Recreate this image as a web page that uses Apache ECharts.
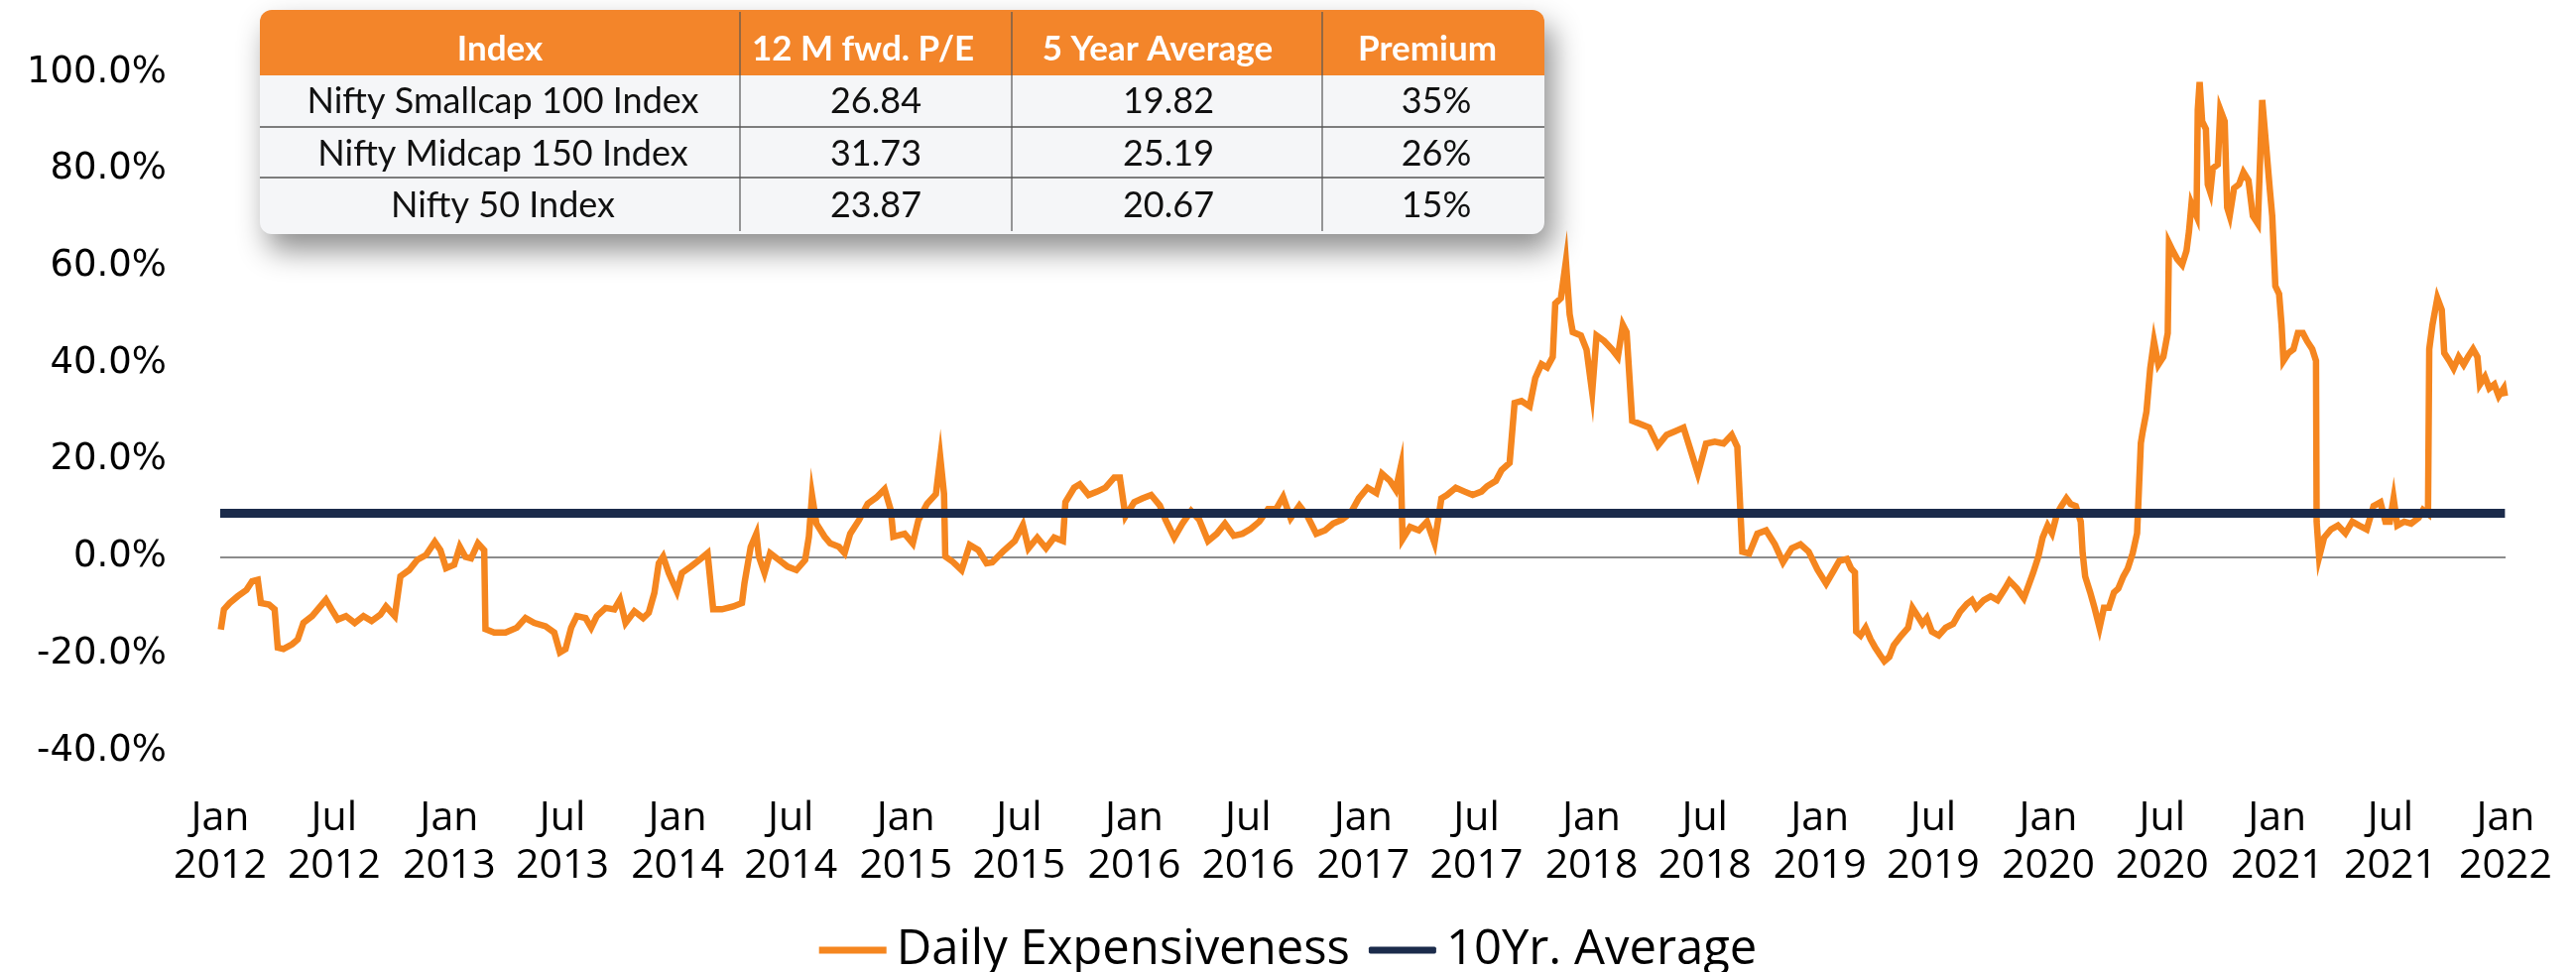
<!DOCTYPE html>
<html>
<head>
<meta charset="utf-8">
<script src="https://cdn.jsdelivr.net/npm/echarts@6/dist/echarts.min.js"></script>
<style>
html,body{margin:0;padding:0;background:#fff;}
#chart{width:2597px;height:980px;}
</style>
</head>
<body>
<div id="chart"></div>
<script>
// ---------- DATA ----------
const seriesNames = ['Daily Expensiveness', '10Yr. Average'];

const dates = [
'2012-01-02','2012-01-07','2012-01-16','2012-01-29','2012-02-12','2012-02-21','2012-03-01','2012-03-06','2012-03-19','2012-03-28',
'2012-04-02','2012-04-11','2012-04-25','2012-05-04','2012-05-13','2012-05-27','2012-06-09','2012-06-18','2012-06-27','2012-07-07',
'2012-07-20','2012-08-03','2012-08-17','2012-08-30','2012-09-13','2012-09-22','2012-10-06','2012-10-15','2012-10-29','2012-11-11',
'2012-11-25','2012-12-09','2012-12-18','2012-12-27',
'2013-01-09','2013-01-18','2013-01-27','2013-02-05','2013-02-16','2013-02-26','2013-02-28','2013-03-14','2013-04-01','2013-04-19',
'2013-05-03','2013-05-17','2013-06-04','2013-06-18','2013-06-27','2013-07-06','2013-07-15','2013-07-24','2013-08-07','2013-08-16',
'2013-08-25','2013-09-08','2013-09-22','2013-10-01','2013-10-10','2013-10-24','2013-11-07','2013-11-16','2013-11-25','2013-12-02',
'2013-12-09','2013-12-18','2013-12-31',
'2014-01-08','2014-01-22','2014-02-05','2014-02-18','2014-02-27','2014-03-13','2014-03-31','2014-04-14','2014-04-18','2014-04-28',
'2014-05-07','2014-05-11','2014-05-20','2014-05-29','2014-06-12','2014-06-26','2014-07-10','2014-07-24','2014-07-30','2014-08-04',
'2014-08-11','2014-08-24','2014-09-02','2014-09-16','2014-09-25','2014-10-04','2014-10-18','2014-11-01','2014-11-15','2014-11-28',
'2014-12-08','2014-12-12','2014-12-30',
'2015-01-12','2015-01-21','2015-02-04','2015-02-18','2015-02-25','2015-03-03','2015-03-05','2015-03-17','2015-03-31','2015-04-13',
'2015-04-27','2015-05-10','2015-05-19','2015-06-05','2015-06-24','2015-07-07','2015-07-16','2015-07-30','2015-08-13','2015-08-26',
'2015-09-09','2015-09-13','2015-09-27','2015-10-06','2015-10-20','2015-11-03','2015-11-16','2015-11-30','2015-12-09','2015-12-18',
'2016-01-01','2016-01-14','2016-01-28','2016-02-11','2016-02-20','2016-03-05','2016-03-18','2016-04-01','2016-04-14','2016-04-28',
'2016-05-12','2016-05-25','2016-06-08','2016-06-22','2016-07-05','2016-07-19','2016-08-02','2016-08-15','2016-08-26','2016-09-07',
'2016-09-21','2016-10-04','2016-10-18','2016-11-01','2016-11-14','2016-11-28','2016-12-12','2016-12-25',
'2017-01-08','2017-01-22','2017-01-31','2017-02-13','2017-02-22','2017-03-02','2017-03-05','2017-03-17','2017-03-31','2017-04-13',
'2017-04-25','2017-05-06','2017-05-15','2017-05-29','2017-06-12','2017-06-25','2017-07-09','2017-07-18','2017-08-01','2017-08-10',
'2017-08-23','2017-08-31','2017-09-11','2017-09-24','2017-10-03','2017-10-13','2017-10-22','2017-10-31','2017-11-04','2017-11-13',
'2017-11-21','2017-11-27','2017-12-02','2017-12-15','2017-12-24',
'2018-01-02','2018-01-09','2018-01-21','2018-02-03','2018-02-12','2018-02-20','2018-02-26','2018-03-07','2018-03-21','2018-04-03',
'2018-04-17','2018-05-01','2018-05-14','2018-05-28','2018-06-06','2018-06-20','2018-07-03','2018-07-17','2018-07-31','2018-08-13',
'2018-08-22','2018-08-30','2018-09-10','2018-09-23','2018-10-07','2018-10-21','2018-11-03','2018-11-17','2018-12-01','2018-12-14',
'2018-12-28',
'2019-01-11','2019-01-24','2019-02-01','2019-02-13','2019-02-20','2019-02-26','2019-02-28','2019-03-07','2019-03-15','2019-03-23',
'2019-03-30','2019-04-07','2019-04-14','2019-04-22','2019-04-29','2019-05-11','2019-05-22','2019-05-29','2019-06-06','2019-06-14',
'2019-06-21','2019-06-29','2019-07-10','2019-07-21','2019-08-02','2019-08-13','2019-08-24','2019-09-01','2019-09-08','2019-09-20',
'2019-10-01','2019-10-12','2019-10-24','2019-10-31','2019-11-12','2019-11-23','2019-12-01','2019-12-08','2019-12-16','2019-12-23',
'2019-12-31',
'2020-01-07','2020-01-15','2020-01-22','2020-01-30','2020-02-06','2020-02-14','2020-02-22','2020-02-25','2020-02-29','2020-03-08',
'2020-03-15','2020-03-23','2020-03-30','2020-04-07','2020-04-15','2020-04-22','2020-04-30','2020-05-07','2020-05-15','2020-05-22',
'2020-05-28','2020-05-31','2020-06-06','2020-06-12','2020-06-18','2020-06-25','2020-07-03','2020-07-10','2020-07-12','2020-07-18',
'2020-07-25','2020-08-02','2020-08-09','2020-08-13','2020-08-17','2020-08-25','2020-08-27','2020-08-30','2020-09-03','2020-09-09',
'2020-09-12','2020-09-16','2020-09-20','2020-09-28','2020-10-02','2020-10-05','2020-10-09','2020-10-13','2020-10-17','2020-10-24',
'2020-11-01','2020-11-08','2020-11-16','2020-11-23','2020-12-01','2020-12-05','2020-12-08','2020-12-12','2020-12-20','2020-12-24',
'2020-12-29',
'2021-01-04','2021-01-08','2021-01-11','2021-01-19','2021-01-27','2021-02-03','2021-02-11','2021-02-18','2021-02-26','2021-03-04',
'2021-03-05','2021-03-09','2021-03-17','2021-03-28','2021-04-08','2021-04-20','2021-05-01','2021-05-12','2021-05-24','2021-06-04',
'2021-06-15','2021-06-23','2021-06-30','2021-07-06','2021-07-12','2021-07-23','2021-08-03','2021-08-15','2021-08-22','2021-08-30',
'2021-09-01','2021-09-06','2021-09-14','2021-09-21','2021-09-25','2021-10-03','2021-10-10','2021-10-18','2021-10-26','2021-11-02',
'2021-11-10','2021-11-17','2021-11-21','2021-11-29','2021-12-06','2021-12-14','2021-12-21','2021-12-29','2021-12-31'
];

const expensiveness = [
-15.0,-10.8,-9.5,-8.1,-6.8,-5.0,-4.7,-9.5,-9.8,-10.8,
-18.7,-19.0,-18.0,-17.0,-13.6,-12.2,-10.2,-8.8,-10.8,-12.9,
-12.2,-13.6,-12.2,-13.2,-11.9,-10.2,-12.2,-4.0,-2.7,-0.6,
0.4,3.1,1.4,-2.3,
-1.6,2.1,0.0,-0.3,2.8,1.4,-14.9,-15.6,-15.6,-14.6,
-12.6,-13.6,-14.3,-15.6,-19.7,-19.0,-14.6,-12.2,-12.6,-14.6,
-12.2,-10.5,-10.8,-8.8,-13.6,-11.2,-12.6,-11.5,-7.4,-1.3,
0.1,-3.3,-7.1,
-3.3,-2.0,-0.6,0.8,-10.8,-10.8,-10.2,-9.5,-5.4,2.1,
4.8,0.1,-3.3,0.8,-0.6,-2.0,-2.7,-0.6,4.2,12.7,
6.9,4.2,2.8,2.1,0.8,4.8,7.6,11.0,12.3,14.0,
9.6,4.2,4.8,
2.8,7.6,11.0,13.0,20.5,13.0,0.1,-1.0,-2.7,2.5,
1.4,-1.3,-1.1,1.1,3.3,6.6,1.8,4.0,1.8,4.0,
3.3,11.3,14.3,15.0,12.8,13.5,14.3,16.4,16.4,8.4,
11.3,12.1,12.8,10.6,7.7,4.0,6.9,9.5,7.7,3.3,
4.8,6.9,4.4,4.8,5.8,7.3,9.9,9.9,12.4,8.0,
10.6,8.4,4.8,5.5,6.9,7.7,9.1,12.1,
14.3,13.2,17.2,15.7,13.9,18.6,3.7,6.2,5.5,7.3,
2.9,12.1,12.8,14.3,13.5,12.8,13.5,14.6,15.7,17.9,
19.4,31.8,32.2,31.1,36.9,39.8,39.1,41.3,52.3,53.4,
61.0,50.1,46.4,45.7,42.8,
34.0,45.7,44.6,42.8,41.3,47.9,46.4,28.1,27.4,26.7,
23.0,25.2,25.9,26.7,23.0,17.2,23.4,23.8,23.4,25.2,
22.7,1.1,0.7,4.8,5.5,2.6,-1.1,1.8,2.6,1.1,
-2.6,
-5.5,-2.6,-0.8,-0.4,-2.4,-3.2,-15.4,-16.2,-14.6,-17.0,
-18.6,-20.2,-21.5,-20.6,-18.2,-16.2,-14.6,-10.5,-12.1,-13.8,
-12.6,-15.4,-16.2,-14.6,-13.8,-11.3,-9.7,-8.9,-10.5,-8.9,
-8.1,-8.9,-6.5,-4.9,-6.5,-8.5,-5.7,-3.2,0.0,4.0,
6.5,
4.9,8.9,10.5,12.1,10.9,10.5,7.3,0.8,-4.0,-7.3,
-10.5,-14.6,-10.5,-10.5,-7.3,-6.5,-4.0,-2.4,0.8,4.9,
23.5,25.9,30.0,38.9,44.5,39.7,41.3,46.2,64.8,63.2,
61.5,60.3,63.2,67.2,72.9,70.4,92.3,98.0,89.9,88.3,
76.9,75.3,80.2,81.0,92.3,92.7,89.9,72.1,70.4,76.1,
76.9,79.4,77.7,70.4,68.8,83.4,94.3,88.3,76.1,70.4,
55.9,
54.3,47.8,40.5,42.1,42.9,46.2,46.2,44.5,42.9,40.5,
7.3,0.0,4.0,5.7,6.5,4.9,7.3,6.5,5.7,10.5,
11.3,7.3,7.3,12.1,6.5,7.3,6.9,8.1,9.7,8.9,
42.9,47.8,53.4,51.0,42.1,40.5,38.9,41.3,39.7,41.3,
42.9,41.3,35.6,37.2,34.8,35.6,33.2,34.8,33.2
];

const averageDates = ['2012-01-01', '2021-12-31'];
const averageValue = 9.0;

const tickDates = [
'2012-01-01','2012-07-01','2013-01-01','2013-07-01','2014-01-01','2014-07-01','2015-01-01','2015-07-01',
'2016-01-01','2016-07-01','2017-01-01','2017-07-01','2018-01-01','2018-07-01','2019-01-01','2019-07-01',
'2020-01-01','2020-07-01','2021-01-01','2021-07-01','2022-01-01'
];
const monthNames = ['Jan','Feb','Mar','Apr','May','Jun','Jul','Aug','Sep','Oct','Nov','Dec'];

const tableHeaders = ['Index', '12 M fwd. P/E', '5 Year Average', 'Premium'];
const tableIndexNames = ['Nifty Smallcap 100 Index', 'Nifty Midcap 150 Index', 'Nifty 50 Index'];
const tableFwdPE = ['26.84', '31.73', '23.87'];
const tableFiveYearAvg = ['19.82', '25.19', '20.67'];
const tablePremium = ['35%', '26%', '15%'];

// ---------- HELPERS ----------
function toTs(s) {
  const p = s.split('-').map(Number);
  return Date.UTC(p[0], p[1] - 1, p[2]);
}

const ORANGE = '#F5861F';
const NAVY = '#1B2B4B';
const HEADER_ORANGE = '#F3852A';

const lineData = dates.map((d, i) => [toTs(d), expensiveness[i]]);
const avgData = averageDates.map(d => [toTs(d), averageValue]);

// ---------- TABLE GRAPHIC ----------
const T = { x: 262, y: 10, w: 1295, h: 226, headerH: 66, r: 12 };
const colEdges = [262, 746, 1020, 1333, 1557];
const headerCenters = [504, 870, 1167, 1439];
const bodyCenters = [507, 883, 1178, 1448];
const rowLines = [128, 179];
const rowTextY = [102, 155, 207];

const graphic = [];
graphic.push({
  type: 'rect', z: 100,
  shape: { x: T.x, y: T.y, width: T.w, height: T.h, r: T.r },
  style: { fill: '#F5F6F8', shadowBlur: 30, shadowOffsetX: 8, shadowOffsetY: 16, shadowColor: 'rgba(0,0,0,0.45)' }
});
graphic.push({
  type: 'rect', z: 101,
  shape: { x: T.x, y: T.y, width: T.w, height: T.headerH, r: [T.r, T.r, 0, 0] },
  style: { fill: HEADER_ORANGE }
});
rowLines.forEach(y => graphic.push({
  type: 'line', z: 102,
  shape: { x1: T.x, y1: y, x2: T.x + T.w, y2: y },
  style: { stroke: '#555', lineWidth: 1.5 }
}));
colEdges.slice(1, 4).forEach(x => graphic.push({
  type: 'line', z: 102,
  shape: { x1: x, y1: T.y + 2, x2: x, y2: T.y + T.h - 3 },
  style: { stroke: '#555', lineWidth: 1.2 }
}));
tableHeaders.forEach((t, i) => graphic.push({
  type: 'text', z: 103,
  style: { text: t, x: headerCenters[i], y: 50, fill: '#fff', font: 'bold 35px Lato', align: 'center', verticalAlign: 'middle' }
}));
const cols = [tableIndexNames, tableFwdPE, tableFiveYearAvg, tablePremium];
cols.forEach((col, ci) => col.forEach((t, ri) => graphic.push({
  type: 'text', z: 103,
  style: { text: t, x: bodyCenters[ci], y: rowTextY[ri], fill: '#111', font: '36px Lato', align: 'center', verticalAlign: 'middle' }
})));

// ---------- CHART ----------
const chart = echarts.init(document.getElementById('chart'), null, { renderer: 'canvas' });
chart.setOption({
  animation: false,
  backgroundColor: '#fff',
  grid: { left: 222, right: 71, top: 73, bottom: 223, containLabel: false, outerBoundsMode: 'none' },
  xAxis: {
    type: 'value',
    min: toTs('2012-01-01'),
    max: toTs('2022-01-01'),
    axisLine: { show: false },
    axisTick: { show: false },
    splitLine: { show: false },
    axisLabel: {
      customValues: tickDates.map(toTs),
      formatter: function (v) {
        const d = new Date(v);
        return monthNames[d.getUTCMonth()] + '\n' + d.getUTCFullYear();
      },
      fontFamily: 'Open Sans',
      fontSize: 41,
      lineHeight: 48,
      color: '#000',
      margin: 44,
      hideOverlap: false,
      showMinLabel: true,
      showMaxLabel: true
    }
  },
  yAxis: {
    type: 'value',
    min: -40, max: 100, interval: 20,
    axisLine: { show: false },
    axisTick: { show: false },
    splitLine: { show: false },
    axisLabel: {
      formatter: v => v.toFixed(1) + '%',
      fontFamily: 'DejaVu Sans',
      fontSize: 37,
      color: '#000',
      margin: 54
    }
  },
  legend: {
    left: 'center',
    top: 925,
    itemWidth: 68,
    itemHeight: 7,
    itemGap: 19,
    data: [
      { name: seriesNames[0], icon: 'rect' },
      { name: seriesNames[1], icon: 'roundRect' }
    ],
    textStyle: { fontFamily: 'Open Sans', fontSize: 49, color: '#000', lineHeight: 56, padding: [0, 0, 0, 5] }
  },
  series: [
    {
      name: seriesNames[0],
      type: 'line',
      data: lineData,
      showSymbol: false,
      symbol: 'none',
      lineStyle: { color: ORANGE, width: 6.5, join: 'miter' },
      itemStyle: { color: ORANGE },
      z: 2,
      markLine: {
        silent: true,
        z: 1,
        symbol: 'none',
        label: { show: false },
        lineStyle: { color: '#8C8C8C', width: 2, type: 'solid' },
        data: [{ yAxis: 0 }]
      }
    },
    {
      name: seriesNames[1],
      type: 'line',
      data: avgData,
      showSymbol: false,
      symbol: 'none',
      lineStyle: { color: NAVY, width: 9 },
      itemStyle: { color: NAVY },
      z: 3
    }
  ],
  graphic: graphic
});
</script>
</body>
</html>
